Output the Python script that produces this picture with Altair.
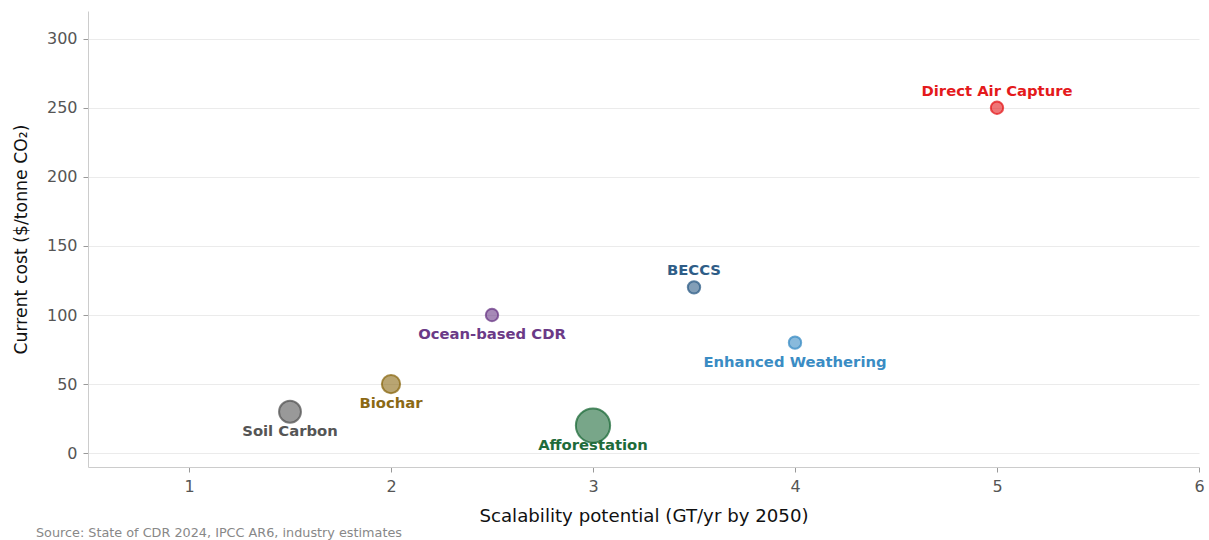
import altair as alt
import pandas as pd

# Carbon dioxide removal approaches: scalability vs. current cost
methods = ["Soil Carbon", "Biochar", "Ocean-based CDR", "Afforestation",
           "BECCS", "Enhanced Weathering", "Direct Air Capture"]
scalability = [1.5, 2.0, 2.5, 3.0, 3.5, 4.0, 5.0]        # GT/yr by 2050
cost = [30, 50, 100, 20, 120, 80, 250]                   # $/tonne CO2
weight = [3.6, 2.5, 1.15, 8.8, 1.15, 1.15, 1.15]         # relative bubble weight
label_side = ["below", "below", "below", "below", "above", "below", "above"]
colors = ["#555555", "#8b6914", "#6b3a87", "#1e6b3a", "#2f5d87", "#3a8cc4", "#e41a1c"]

df = pd.DataFrame({
    "method": methods,
    "scalability": scalability,
    "cost": cost,
    "weight": weight,
    "side": label_side,
})

FONT = "DejaVu Sans"

color_scale = alt.Scale(domain=methods, range=colors)

x_enc = alt.X(
    "scalability:Q",
    title="Scalability potential (GT/yr by 2050)",
    scale=alt.Scale(domain=[0.5, 6], nice=False, zero=False),
    axis=alt.Axis(values=[1, 2, 3, 4, 5, 6], grid=False, format="d", labelFlush=False),
)
y_enc = alt.Y(
    "cost:Q",
    title="Current cost ($/tonne CO₂)",
    scale=alt.Scale(domain=[-10, 320], nice=False, zero=False),
    axis=alt.Axis(values=[0, 50, 100, 150, 200, 250, 300], grid=True),
)

base = alt.Chart(df)

bubbles = base.mark_circle(opacity=1, fillOpacity=0.6, strokeWidth=2, strokeOpacity=0.75).encode(
    x=x_enc,
    y=y_enc,
    size=alt.Size("weight:Q", scale=alt.Scale(domain=[0, 8.5], range=[0, 1134]), legend=None),
    color=alt.Color("method:N", scale=color_scale, legend=None),
    stroke=alt.Stroke("method:N", scale=color_scale, legend=None),
)

labels_above = base.transform_filter(alt.datum.side == "above").mark_text(
    font=FONT, fontSize=14.8, fontWeight="bold", dy=-16, baseline="middle", align="center"
).encode(
    x="scalability:Q",
    y="cost:Q",
    text="method:N",
    color=alt.Color("method:N", scale=color_scale, legend=None),
)

labels_below = base.transform_filter(alt.datum.side == "below").mark_text(
    font=FONT, fontSize=14.8, fontWeight="bold", dy=20, baseline="middle", align="center"
).encode(
    x="scalability:Q",
    y="cost:Q",
    text="method:N",
    color=alt.Color("method:N", scale=color_scale, legend=None),
)

source = alt.Chart(pd.DataFrame({"t": ["Source: State of CDR 2024, IPCC AR6, industry estimates"]})).mark_text(
    font=FONT, fontSize=12.8, color="#888888", align="left", baseline="alphabetic"
).encode(
    x=alt.value(-52),
    y=alt.value(526),
    text="t:N",
)

chart = alt.layer(bubbles, labels_above, labels_below, source).properties(
    width=1111,
    height=456,
    autosize=alt.AutoSizeParams(type="none"),
    padding={"left": 88, "top": 11, "right": 10, "bottom": 73},
).configure_view(
    stroke=None
).configure_axis(
    labelFont=FONT,
    titleFont=FONT,
    labelFontSize=16,
    titleFontSize=18.2,
    titleFontWeight="normal",
    labelColor="#555555",
    titleColor="#111111",
    domainColor="#cccccc",
    tickColor="#999999",
    tickSize=5,
    gridColor="#ebebeb",
    labelPadding=6,
).configure_axisY(
    titleFontSize=17.3,
    titlePadding=16,
).configure_axisX(
    titlePadding=13,
    labelPadding=6,
)

chart.save("out.html", embed_options={"renderer": "svg", "actions": False})
